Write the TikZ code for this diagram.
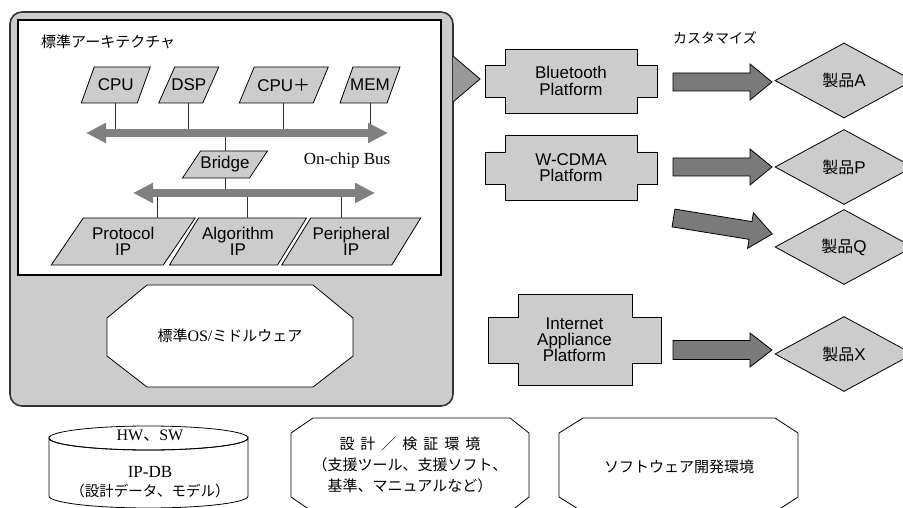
\documentclass[tikz,border=0pt]{standalone}
\usepackage{fontspec}
\setmainfont{Liberation Serif}
\newfontfamily\jp{Noto Sans CJK JP}
\newfontfamily\hv{Liberation Sans}
\usetikzlibrary{shapes.geometric,arrows.meta,calc}
\definecolor{lightg}{HTML}{CCCCCC}
\definecolor{busg}{HTML}{808080}
\definecolor{arrg}{HTML}{7A7A7A}
\definecolor{trig}{HTML}{999999}
\definecolor{frameg}{HTML}{333333}
\tikzset{
  shapefill/.style={fill=lightg,draw=black,line width=0.8pt,line join=miter},
  lbl/.style={inner sep=0pt,align=center,font=\hv\fontsize{17}{17}\selectfont},
  jlbl/.style={inner sep=0pt,align=center,font=\jp\fontsize{15}{21}\selectfont},
  wire/.style={draw=frameg,line width=0.9pt},
  bus/.style={draw=busg,line width=8pt,{Triangle[width=19pt,length=20pt]}-{Triangle[width=19pt,length=20pt]}},
  blockarrow/.style={fill=arrg,draw=black,line width=0.8pt,line join=miter},
  prod/.style={diamond,fill=lightg,draw=black,line width=0.8pt,minimum width=138pt,minimum height=75pt,inner sep=0pt,font=\jp\fontsize{16}{16}\selectfont},
  octa/.style={fill=white,draw=black,line width=0.8pt}
}
% parallelogram: name, cx, cy, edge width, height, slant, text
\newcommand\paraBox[7]{%
  \filldraw[shapefill] (#2-#4/2+#6/2,#3-#5/2) -- (#2+#4/2+#6/2,#3-#5/2) -- (#2+#4/2-#6/2,#3+#5/2) -- (#2-#4/2-#6/2,#3+#5/2) -- cycle;
  \node[lbl,minimum height=#5pt] (#1) at (#2,#3) {#7};}
% cross-shaped platform: name, il, ir, ol, or, top, st, sb, bot
\newcommand\crossBox[9]{%
  \filldraw[shapefill] (#2,#6) -- (#3,#6) -- (#3,#7) -- (#5,#7) -- (#5,#8) -- (#3,#8) -- (#3,#9) -- (#2,#9) -- (#2,#8) -- (#4,#8) -- (#4,#7) -- (#2,#7) -- cycle;
  \coordinate (#1) at ({(#4+#5)/2},{(#6+#9)/2});}
% block arrow: start coordinate, rotation, length, shaft half, head half, head length
\newcommand\blockArr[6]{%
  \begin{scope}[shift={(#1)},rotate=#2]
    \filldraw[blockarrow] (0,-#4) -- (#3-#6,-#4) -- (#3-#6,-#5) -- (#3,0) -- (#3-#6,#5) -- (#3-#6,#4) -- (0,#4) -- cycle;
  \end{scope}}
\begin{document}
\begin{tikzpicture}[x=1pt,y=-1pt]
\useasboundingbox (0,0) rectangle (903,508);
\clip (0,0) rectangle (903,508);
% main frame
\filldraw[fill=lightg,draw=frameg,line width=1.6pt,rounded corners=12pt] (10,12) rectangle (453,406);
\filldraw[fill=white,draw=black,line width=1.1pt] (18,20) rectangle (441,275);
\filldraw[fill=trig,draw=black,line width=0.8pt] (453,56) -- (480,79) -- (453,102);
\node[anchor=west,inner sep=0pt,font=\jp\fontsize{15}{15}\selectfont] (arch) at (41,42) {標準アーキテクチャ};
% top row
\paraBox{cpu}{115.75}{85}{56}{36}{13}{CPU}
\paraBox{dsp}{188.75}{85}{44}{36}{16}{DSP}
\paraBox{cpuplus}{283.75}{85}{74}{36}{15}{CPU{\jp ＋}}
\paraBox{mem}{370}{85}{47}{36}{13}{MEM}
% upper bus
\coordinate (busL) at (86,133);
\coordinate (busR) at (388,133);
\draw[wire] (cpu.south) -- (cpu.south |- busL);
\draw[wire] (dsp.south) -- (dsp.south |- busL);
\draw[wire] (cpuplus.south) -- (cpuplus.south |- busL);
\draw[wire] (mem.south) -- (mem.south |- busL);
% bridge
\paraBox{bridge}{225}{164.5}{67}{27}{18}{Bridge}
\coordinate (bus2L) at (133,193);
\coordinate (bus2R) at (375,193);
\draw[wire] (bridge.north) -- (bridge.north |- busL);
\draw[wire] (bridge.south) -- (bridge.south |- bus2L);
\node[inner sep=0pt,font=\fontsize{17}{17}\selectfont] (onchip) at (347,160) {On-chip Bus};
% bottom row
\paraBox{proto}{123.25}{241.5}{112}{47}{32}{Protocol\\[-1pt]IP}
\paraBox{algo}{238}{241.5}{108}{47}{29}{Algorithm\\[-1pt]IP}
\paraBox{peri}{351.25}{241.5}{110}{47}{29}{Peripheral\\[-1pt]IP}
\draw[wire] (proto.north -| 157,0) -- (157,193);
\draw[wire] (algo.north -| 247,0) -- (247,193);
\draw[wire] (peri.north -| 341,0) -- (341,193);
\draw[bus] (busL) -- (busR);
\draw[bus] (bus2L) -- (bus2R);
% OS octagon
\filldraw[octa] (147,285) -- (313,285) -- (353,318) -- (353,356) -- (313,387) -- (147,387) -- (107,356) -- (107,318) -- cycle;
\node[inner sep=0pt,font=\jp\fontsize{15}{15}\selectfont] (os) at (230,336) {標準{\rmfamily\fontsize{16}{16}\selectfont OS/}ミドルウェア};
% platforms
\crossBox{bt}{505}{637}{485}{657}{49}{65}{97}{113}
\node[lbl,font=\hv\fontsize{17}{16.5}\selectfont] (btl) at (bt) {Bluetooth\\Platform};
\crossBox{wc}{505}{637}{485}{657}{135}{152}{184}{200}
\node[lbl,font=\hv\fontsize{17}{16.5}\selectfont] (wcl) at (wc) {W-CDMA\\Platform};
\crossBox{ia}{518}{632}{488}{661}{294}{317}{363}{385}
\node[lbl,font=\hv\fontsize{17}{16}\selectfont] (ial) at (ia) {Internet\\Appliance\\Platform};
\node[inner sep=0pt,font=\jp\fontsize{14}{14}\selectfont] (cust) at (715,38) {カスタマイズ};
% products
\node[prod] (pA) at (844,80.5) {製品{\hv\fontsize{17}{17}\selectfont A}};
\node[prod] (pP) at (844,167) {製品{\hv\fontsize{17}{17}\selectfont P}};
\node[prod] (pQ) at (844,247) {製品{\hv\fontsize{17}{17}\selectfont Q}};
\node[prod] (pX) at (844,354) {製品{\hv\fontsize{17}{17}\selectfont X}};
% block arrows
\coordinate (aA) at (673,82);
\coordinate (aP) at (673,167);
\coordinate (aQ) at (673.5,218);
\coordinate (aX) at (673,350);
\blockArr{aA}{0}{99}{9}{18}{22}
\blockArr{aP}{0}{99}{9}{18}{22}
\blockArr{aQ}{-9.2}{100}{9}{18}{22}
\blockArr{aX}{0}{99}{9.5}{17}{22}
% bottom: IP-DB cylinder
\filldraw[fill=white,draw=black,line width=0.8pt] (49,438) -- (49,496) arc[start angle=180,end angle=360,x radius=99.5,y radius=-12] -- (248,438) arc[start angle=0,end angle=180,x radius=99.5,y radius=12] -- cycle;
\draw[line width=0.8pt] (148.5,438) ellipse[x radius=99.5,y radius=12];
\node[inner sep=0pt,font=\fontsize{16}{16}\selectfont] (hwsw) at (150,436) {HW{\jp 、}SW};
\node[inner sep=0pt,font=\fontsize{17}{17}\selectfont] (ipdb) at (150,472) {IP-DB};
\node[inner sep=0pt,font=\jp\fontsize{14.5}{14.5}\selectfont] (ipdbsub) at (150,491) {（設計データ、モデル）};
% design env octagon
\filldraw[octa] (313,418) -- (510,418) -- (529,433) -- (529,497) -- (510,512) -- (313,512) -- (291,497) -- (291,433) -- cycle;
\node[jlbl] (design) at (410,465) {設\hspace{6pt}計\hspace{6pt}／\hspace{6pt}検\hspace{6pt}証\hspace{6pt}環\hspace{6pt}境\\（支援ツール、支援ソフト、\\基準、マニュアルなど）};
% software env octagon
\filldraw[octa] (583,418) -- (775,418) -- (798,433) -- (798,497) -- (775,512) -- (583,512) -- (559,497) -- (559,433) -- cycle;
\node[inner sep=0pt,font=\jp\fontsize{15}{15}\selectfont] (swenv) at (679,467) {ソフトウェア開発環境};
\end{tikzpicture}
\end{document}
